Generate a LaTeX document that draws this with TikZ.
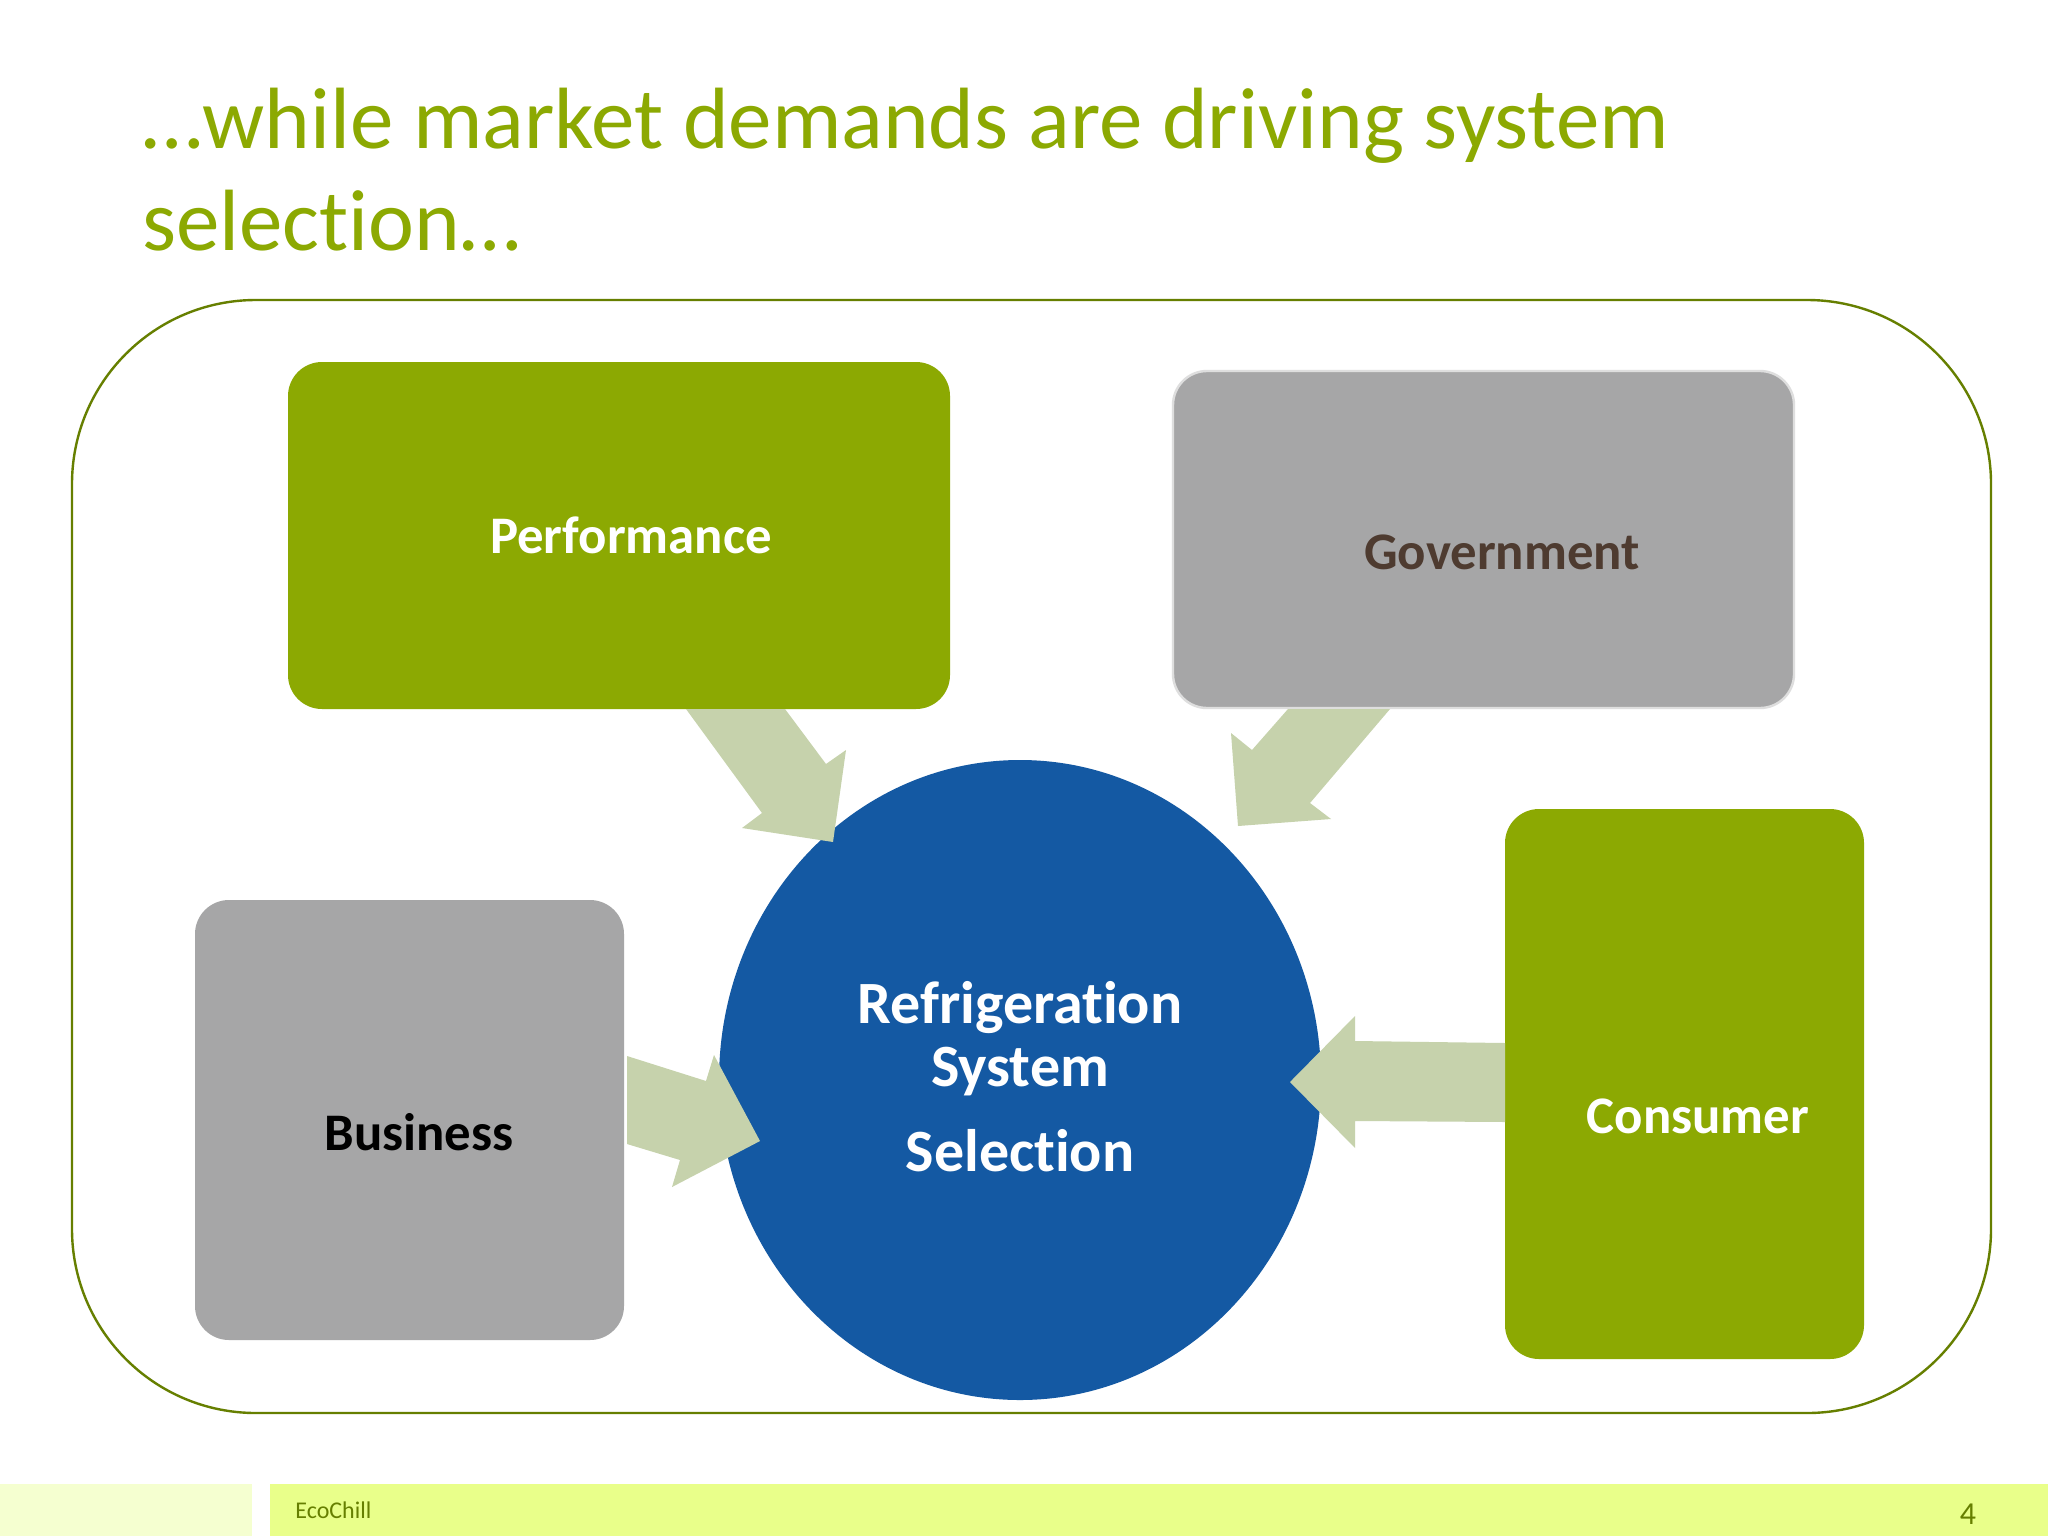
\documentclass[tikz,border=0pt]{standalone}
\usepackage{fontspec}
\setmainfont{Carlito}[Ligatures=NoCommon]
\usetikzlibrary{positioning}
\definecolor{leaf}{HTML}{8CA902}
\definecolor{slate}{HTML}{A6A6A7}
\definecolor{deepblue}{HTML}{1459A3}
\definecolor{pale}{HTML}{C6D2AC}
\definecolor{olive}{HTML}{667F00}
\definecolor{lime}{HTML}{E9FF8A}
\definecolor{limepale}{HTML}{F5FFD0}
\definecolor{umber}{HTML}{4E3B30}
\tikzset{
	tile/.style={rounded corners=17pt, inner sep=0pt},
	tiletext/.style={font=\bfseries\fontsize{26.4}{30}\selectfont},
	flow/.style={fill=pale, draw=none},
}
\begin{document}
\begin{tikzpicture}[x=0.5pt, y=-0.5pt]
	\useasboundingbox (0,0) rectangle (2048,1536);
	\fill[white] (0,0) rectangle (2048,1536);
	
	% title
	\node[anchor=north west, align=left, text=leaf, inner sep=0pt, font=\fontsize{43.5}{51}\selectfont] (title) at (142,88) {\ldots while market demands are driving system\\selection\ldots};
	
	% outer frame
	\draw[olive, line width=1.2pt, rounded corners=92pt] (72,300) rectangle (1991,1413);
	
	% boxes
	\fill[leaf, tile] (288,362) rectangle (950,709);
	\fill[slate, tile] (195,900) rectangle (624,1340);
	\fill[leaf, tile] (1505,809) rectangle (1864,1359);
	\draw[fill=slate, draw=black!13, line width=1.2pt, tile] (1173,371) rectangle (1794,708);
	
	% circle
	\fill[deepblue] (1020,1080) ellipse (301 and 320);
	
	% arrows
	\fill[flow] (686,709) -- (785,709) -- (826,764) -- (846,750) -- (833,842) -- (742,828) -- (762,813) -- cycle;
	\fill[flow] (1288,709) -- (1390,709) -- (1310,803) -- (1331,819) -- (1238,826) -- (1231,733) -- (1252,750) -- cycle;
	\fill[flow] (627,1056) -- (706,1081) -- (714,1055) -- (760,1141) -- (672,1187) -- (680,1160) -- (627,1144) -- cycle;
	\fill[flow] (1505,1043) -- (1355,1041) -- (1355,1016) -- (1290,1082) -- (1355,1148) -- (1355,1121) -- (1505,1122) -- cycle;
	
	% labels
	\node[tiletext, text=white] (perf) at (631,535) {Performance};
	\node[tiletext, text=umber] (gov) at (1502,552) {Government};
	\node[tiletext, text=black] (bus) at (419,1132) {Business};
	\node[tiletext, text=white] (cons) at (1698,1116) {Consumer};
	\node[text=white, font=\bfseries\fontsize{30}{31.5}\selectfont, align=center] (sel) at (1020,1077) {Refrigeration\\System\\[11pt]Selection};
	
	% footer
	\fill[limepale] (0,1484) rectangle (252,1536);
	\fill[lime] (270,1484) rectangle (2048,1536);
	\node[anchor=west, text=olive, inner sep=0pt, font=\fontsize{12}{14}\selectfont] (brand) at (295,1510) {EcoChill};
	\node[text=olive, inner sep=0pt, font=\fontsize{16}{18}\selectfont] (page) at (1968,1514) {4};
\end{tikzpicture}
\end{document}
